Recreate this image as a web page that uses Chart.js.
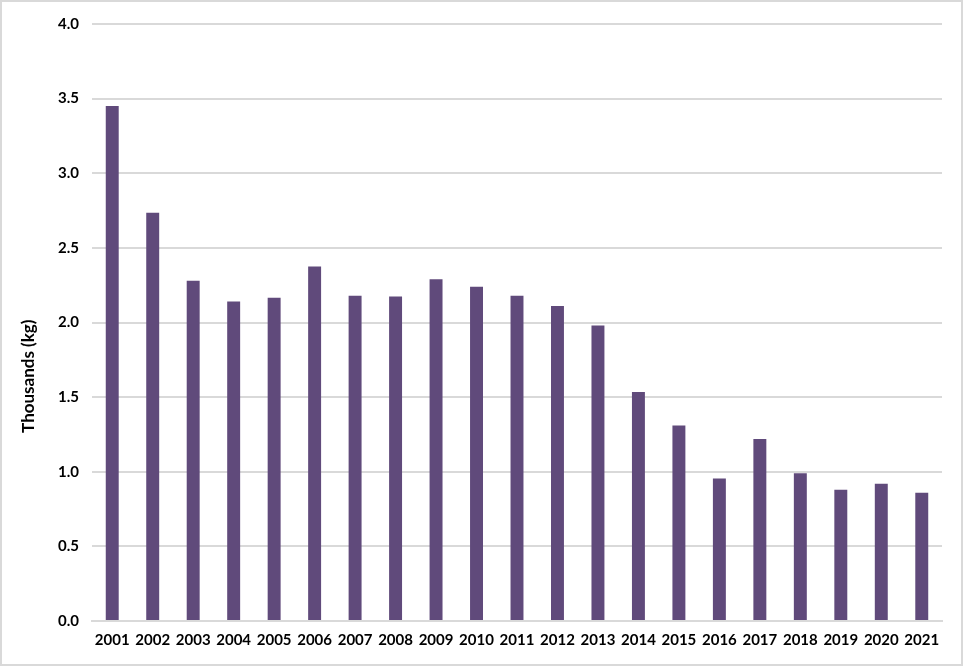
<!DOCTYPE html>
<html>
<head>
<meta charset="utf-8">
<script src="https://cdn.jsdelivr.net/npm/chart.js@4/dist/chart.umd.min.js"></script>
<style>
    html, body { margin: 0; padding: 0; background: #fff; }
    .frame {
        width: 963px;
        height: 666px;
        box-sizing: border-box;
        border: 2px solid #d9d9d9;
        position: relative;
    }
</style>
</head>
<body>
<div class="frame"><canvas id="chart"></canvas></div>
<script>
const years = ['2001', '2002', '2003', '2004', '2005', '2006', '2007', '2008', '2009', '2010', '2011',
    '2012', '2013', '2014', '2015', '2016', '2017', '2018', '2019', '2020', '2021'];
const thousandsKg = [3.45, 2.735, 2.28, 2.14, 2.165, 2.375, 2.18, 2.175, 2.29, 2.24, 2.18,
    2.11, 1.98, 1.535, 1.31, 0.955, 1.22, 0.99, 0.88, 0.92, 0.86];
const yTicks = [0, 0.5, 1.0, 1.5, 2.0, 2.5, 3.0, 3.5, 4.0];
const yTitle = 'Thousands (kg)';

const palette = {
    bar: '#604a7b',
    grid: '#d9d9d9',
    ink: '#000000'
};

const fontFamily = 'Lato, Carlito, "Open Sans", sans-serif';
const labelFont = { family: fontFamily, size: 15, weight: 'bold' };

// the axis title sits lower than the axis middle in the original, so draw it by hand
const axisTitle = {
    id: 'axisTitle',
    afterDraw(chart) {
        const { ctx, chartArea } = chart;
        ctx.save();
        ctx.translate(27, chartArea.top + (chartArea.bottom - chartArea.top) * 0.59);
        ctx.rotate(-Math.PI / 2);
        ctx.font = `bold 17px ${fontFamily}`;
        ctx.fillStyle = palette.ink;
        ctx.textAlign = 'center';
        ctx.textBaseline = 'middle';
        ctx.fillText(yTitle, 0, 0);
        ctx.restore();
    }
};

new Chart(document.getElementById('chart'), {
    type: 'bar',
    data: {
        labels: years,
        datasets: [{
            data: thousandsKg,
            backgroundColor: palette.bar,
            borderWidth: 0,
            categoryPercentage: 1,
            barPercentage: 0.32
        }]
    },
    options: {
        responsive: true,
        maintainAspectRatio: false,
        animation: false,
        layout: {
            padding: { top: 12, right: 19, bottom: 0, left: 20 }
        },
        plugins: {
            legend: { display: false },
            tooltip: { enabled: false }
        },
        scales: {
            x: {
                grid: { display: false, drawTicks: false },
                border: { display: true, color: palette.grid, width: 2 },
                ticks: {
                    color: palette.ink,
                    font: labelFont,
                    padding: 10,
                    maxRotation: 0,
                    autoSkip: false
                },
                afterFit: (scale) => { scale.height = 43; }
            },
            y: {
                min: 0,
                max: 4,
                afterBuildTicks: (scale) => {
                    scale.ticks = yTicks.map((value) => ({ value }));
                },
                grid: { color: palette.grid, lineWidth: 2, drawTicks: false },
                border: { display: false },
                ticks: {
                    color: palette.ink,
                    font: labelFont,
                    padding: 13,
                    callback: (value) => Number(value).toFixed(1)
                },
                afterFit: (scale) => { scale.width = 70; }
            }
        }
    },
    plugins: [axisTitle]
});
</script>
</body>
</html>
